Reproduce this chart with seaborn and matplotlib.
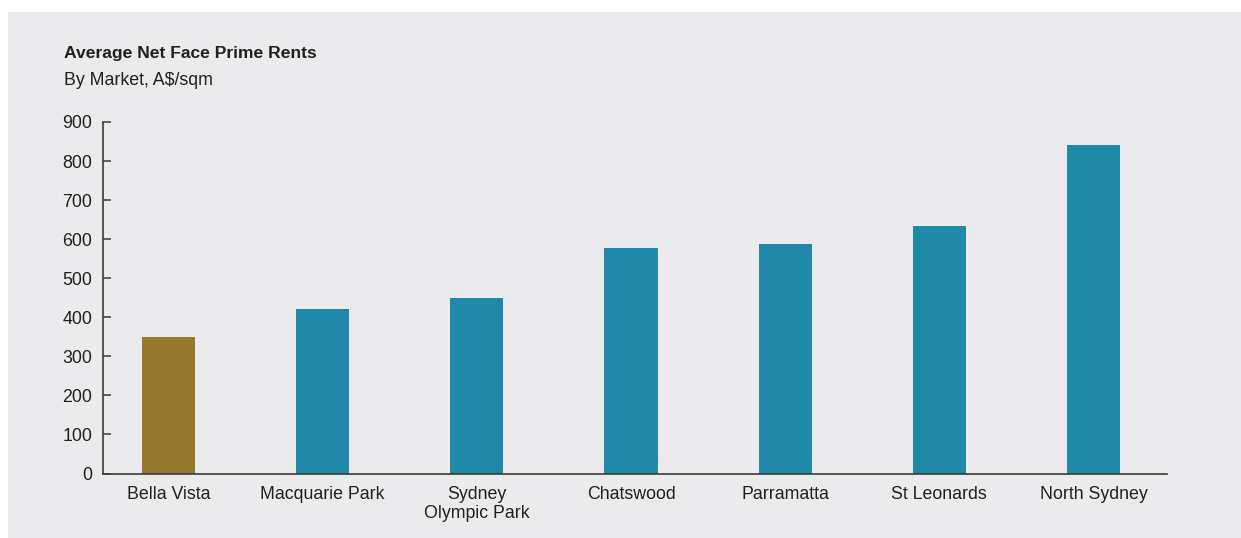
import matplotlib
matplotlib.use("Agg")
import matplotlib.pyplot as plt
import matplotlib.patches as mpatches
import seaborn as sns
import pandas as pd

# Average net face prime rents by market (A$/sqm)
markets = ["Bella Vista", "Macquarie Park", "Sydney\nOlympic Park", "Chatswood",
           "Parramatta", "St Leonards", "North Sydney"]
rents = [350, 420, 450, 577, 588, 634, 840]
bar_colors = ["#98782e", "#2089a8", "#2089a8", "#2089a8", "#2089a8", "#2089a8", "#2089a8"]
y_ticks = [0, 100, 200, 300, 400, 500, 600, 700, 800, 900]

title = "Average Net Face Prime Rents"
subtitle = "By Market, A$/sqm"

panel_bg = "#ebebed"
text_dark = "#231f20"
axis_col = "#3a3a3a"

sns.set_theme(style="white", rc={
    "axes.facecolor": panel_bg,
    "figure.facecolor": "white",
})
plt.rcParams["font.family"] = ["Liberation Sans", "DejaVu Sans"]

df = pd.DataFrame({"market": markets, "rent": rents})

fig = plt.figure(figsize=(12.41, 5.38), dpi=100)
# grey card behind the chart
fig.patches.append(mpatches.Rectangle((8 / 1241, 0), 1 - 8 / 1241, 1 - 12 / 538,
                                      transform=fig.transFigure, facecolor=panel_bg,
                                      edgecolor="none", zorder=-5))

ax = fig.add_axes([102.7 / 1241, 1 - 473.5 / 538, (1166.7 - 102.7) / 1241, (473.5 - 122) / 538])
ax.set_facecolor("none")

sns.barplot(data=df, x="market", y="rent", hue="market", palette=bar_colors,
            width=0.345, legend=False, saturation=1, linewidth=0, edgecolor="none", ax=ax)

ax.set_xlim(-0.427, 6.475)
ax.set_ylim(0, 900)
ax.set_yticks(y_ticks)
ax.set_yticklabels([str(v) for v in y_ticks])
ax.set_xlabel("")
ax.set_ylabel("")

for side in ["top", "right"]:
    ax.spines[side].set_visible(False)
for side in ["left", "bottom"]:
    ax.spines[side].set_color(axis_col)
    ax.spines[side].set_linewidth(1.2)

ax.tick_params(axis="y", left=True, direction="in", length=6, width=1.1, color=axis_col,
               labelsize=12.8, labelcolor=text_dark, pad=7.5)
ax.tick_params(axis="x", bottom=False, length=0, labelsize=12.8, labelcolor=text_dark, pad=9)
for lbl in ax.get_xticklabels():
    lbl.set_linespacing(1.15)

fig.text(64 / 1241, 1 - 58 / 538, title, fontsize=12.6, fontweight="bold",
         color=text_dark, ha="left", va="baseline")
fig.text(64 / 1241, 1 - 85 / 538, subtitle, fontsize=12.8,
         color=text_dark, ha="left", va="baseline")

fig.savefig("out.png", dpi=100, facecolor="white")
